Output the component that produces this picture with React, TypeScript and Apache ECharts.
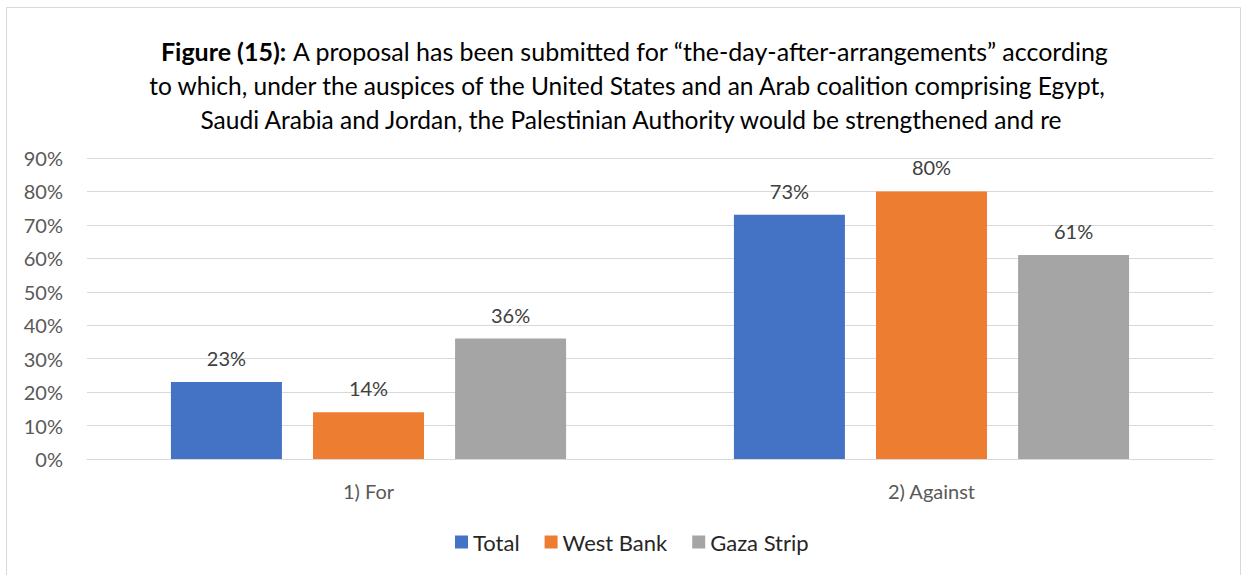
import React, { useEffect, useRef } from "react";
import * as echarts from "echarts";

const categories = ["1) For", "2) Against"];
const seriesNames = ["Total", "West Bank", "Gaza Strip"];
const totalValues = [23, 73];
const westBankValues = [14, 80];
const gazaValues = [36, 61];
const colors = ["#4472C4", "#ED7D31", "#A5A5A5"];
const titleLine1Bold = "Figure (15):";
const titleLine1 = " A proposal has been submitted for “the-day-after-arrangements” according";
const titleLine2 = "to which, under the auspices of the United States and an Arab coalition comprising Egypt,";
const titleLine3 = "Saudi Arabia and Jordan, the Palestinian Authority would be strengthened and re";

const FONT = "Lato, 'Noto Sans', sans-serif";
const TITLE_SIZE = 24.5;

export default function App() {
  const ref = useRef<HTMLDivElement>(null);
  useEffect(() => {
    if (!ref.current) return;
    const chart = echarts.init(ref.current, null, { renderer: "svg" });
    const values = [totalValues, westBankValues, gazaValues];
    chart.setOption({
      animation: false,
      backgroundColor: "#ffffff",
      textStyle: { fontFamily: FONT },
      graphic: [
        {
          type: "rect",
          shape: { x: 6.5, y: 7.5, width: 1234, height: 580 },
          style: { fill: "none", stroke: "#d9d9d9", lineWidth: 1 },
          silent: true,
        },
        {
          type: "text",
          x: 635,
          y: 51,
          style: {
            text: "{b|" + titleLine1Bold + "}{n|" + titleLine1 + "}",
            align: "center",
            verticalAlign: "middle",
            rich: {
              b: { fontWeight: "bold", fontSize: 25, fontFamily: FONT, fill: "#000" },
              n: { fontSize: 25, fontFamily: FONT, fill: "#000" },
            },
          },
        },
        {
          type: "text",
          x: 627,
          y: 85,
          style: { text: titleLine2, align: "center", verticalAlign: "middle", fontSize: TITLE_SIZE, fontFamily: FONT, fill: "#000" },
        },
        {
          type: "text",
          x: 631,
          y: 119,
          style: { text: titleLine3, align: "center", verticalAlign: "middle", fontSize: TITLE_SIZE, fontFamily: FONT, fill: "#000" },
        },
      ],
      grid: { left: 87, right: 30, top: 158, bottom: 116, containLabel: false },
      legend: {
        data: seriesNames,
        bottom: 17,
        left: 450,
        itemWidth: 13,
        itemHeight: 13,
        itemGap: 25,
        icon: "rect",
        textStyle: { fontSize: 22, color: "#262626", fontFamily: FONT, padding: [0, 0, 0, 0] },
      },
      xAxis: {
        type: "category",
        data: categories,
        axisLine: { lineStyle: { color: "#d9d9d9" } },
        axisTick: { show: false },
        axisLabel: { fontSize: 20, color: "#595959", margin: 22, fontFamily: FONT },
      },
      yAxis: {
        type: "value",
        min: 0,
        max: 90,
        interval: 10,
        axisLabel: { formatter: "{value}%", fontSize: 20, color: "#595959", margin: 24, fontFamily: FONT },
        splitLine: { lineStyle: { color: "#d9d9d9" } },
        axisLine: { show: false },
        axisTick: { show: false },
      },
      series: seriesNames.map((name, i) => ({
        name,
        type: "bar",
        data: values[i],
        barWidth: 111,
        barGap: "28%",
        itemStyle: { color: colors[i] },
        label: {
          show: true,
          position: "top",
          distance: 14,
          formatter: "{c}%",
          fontSize: 20,
          color: "#404040",
          fontFamily: FONT,
        },
      })),
    });
    return () => chart.dispose();
  }, []);
  return (
    <div
      ref={ref}
      style={{ position: "fixed", left: 0, top: 0, width: 1243, height: 575, background: "#fff" }}
    />
  );
}
